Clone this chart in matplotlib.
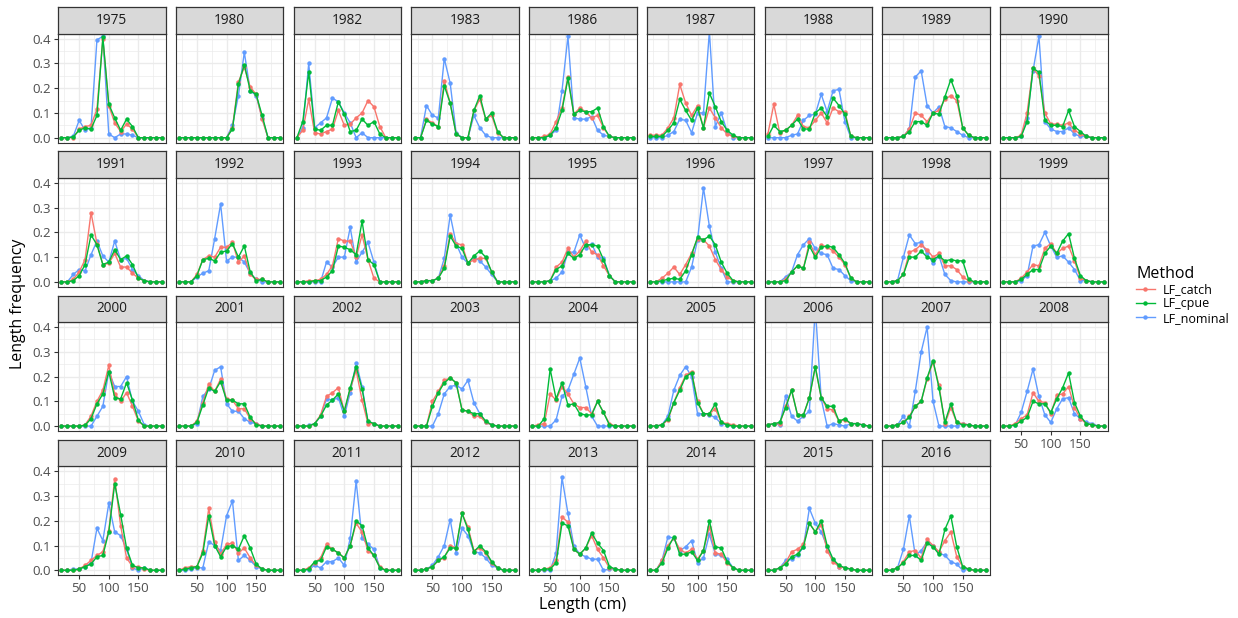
import matplotlib
matplotlib.use("Agg")
import matplotlib.pyplot as plt
from matplotlib.ticker import MultipleLocator

plt.rcParams["font.family"] = ["Open Sans", "DejaVu Sans"]

# =========================
# DATA
# =========================
YEARS = [1975, 1980, 1982, 1983, 1986, 1987, 1988, 1989, 1990,
         1991, 1992, 1993, 1994, 1995, 1996, 1997, 1998, 1999,
         2000, 2001, 2002, 2003, 2004, 2005, 2006, 2007, 2008,
         2009, 2010, 2011, 2012, 2013, 2014, 2015, 2016]

LENGTHS = [20, 30, 40, 50, 60, 70, 80, 90, 100, 110, 120, 130, 140, 150, 160, 170, 180, 190]

METHODS = ["LF_catch", "LF_cpue", "LF_nominal"]

# one row per year, one value per length class
LF_CATCH = [
    [0, 0, 0, 0.035, 0.045, 0.05, 0.115, 0.40, 0.13, 0.06, 0.025, 0.055, 0.035, 0, 0, 0, 0, 0],
    [0, 0, 0, 0, 0, 0, 0, 0, 0, 0.04, 0.225, 0.285, 0.205, 0.175, 0.075, 0, 0, 0],
    [0, 0.03, 0.155, 0.02, 0.015, 0.025, 0.035, 0.11, 0.05, 0.055, 0.08, 0.1, 0.15, 0.125, 0.045, 0, 0, 0],
    [0, 0, 0.075, 0.06, 0.045, 0.23, 0.14, 0.015, 0, 0, 0.11, 0.155, 0.075, 0.09, 0.02, 0, 0, 0],
    [0, 0, 0.005, 0.015, 0.065, 0.12, 0.245, 0.095, 0.12, 0.105, 0.08, 0.09, 0.04, 0.005, 0, 0, 0, 0],
    [0.01, 0.01, 0.01, 0.04, 0.08, 0.215, 0.14, 0.09, 0.13, 0.04, 0.12, 0.08, 0.04, 0.015, 0.005, 0, 0, 0],
    [0.015, 0.135, 0.02, 0.03, 0.05, 0.09, 0.045, 0.04, 0.07, 0.1, 0.06, 0.12, 0.105, 0.105, 0.005, 0, 0, 0],
    [0, 0, 0, 0.005, 0.035, 0.1, 0.09, 0.065, 0.1, 0.11, 0.155, 0.17, 0.15, 0.04, 0.01, 0, 0, 0],
    [0, 0, 0, 0.01, 0.1, 0.28, 0.25, 0.1, 0.055, 0.055, 0.05, 0.06, 0.03, 0.015, 0.005, 0, 0, 0],
    [0, 0, 0.01, 0.04, 0.09, 0.28, 0.155, 0.07, 0.075, 0.115, 0.06, 0.06, 0.035, 0.015, 0.005, 0, 0, 0],
    [0, 0, 0, 0.03, 0.09, 0.105, 0.1, 0.14, 0.14, 0.16, 0.08, 0.105, 0.03, 0.01, 0.01, 0, 0, 0],
    [0, 0, 0.005, 0.005, 0.01, 0.03, 0.065, 0.175, 0.165, 0.165, 0.1, 0.19, 0.09, 0.015, 0, 0, 0, 0],
    [0, 0, 0.005, 0.005, 0.015, 0.065, 0.195, 0.155, 0.15, 0.075, 0.09, 0.095, 0.095, 0.04, 0, 0, 0, 0],
    [0, 0, 0, 0.005, 0.06, 0.08, 0.135, 0.1, 0.125, 0.165, 0.12, 0.11, 0.065, 0.025, 0, 0, 0, 0],
    [0, 0, 0.015, 0.035, 0.06, 0.03, 0.07, 0.115, 0.175, 0.17, 0.145, 0.09, 0.05, 0.02, 0.005, 0, 0, 0],
    [0, 0, 0, 0.01, 0.04, 0.065, 0.055, 0.16, 0.11, 0.15, 0.14, 0.125, 0.1, 0.07, 0.015, 0, 0, 0],
    [0, 0, 0.005, 0.03, 0.12, 0.13, 0.15, 0.13, 0.1, 0.115, 0.065, 0.065, 0.05, 0.02, 0.005, 0, 0, 0],
    [0, 0, 0, 0.015, 0.04, 0.07, 0.065, 0.135, 0.155, 0.115, 0.135, 0.145, 0.085, 0.015, 0.005, 0, 0, 0],
    [0, 0, 0, 0, 0.005, 0.04, 0.1, 0.145, 0.245, 0.13, 0.1, 0.135, 0.08, 0.02, 0, 0, 0, 0],
    [0, 0, 0, 0.02, 0.095, 0.17, 0.14, 0.19, 0.11, 0.105, 0.07, 0.07, 0.03, 0.01, 0, 0, 0, 0],
    [0, 0, 0, 0.01, 0.045, 0.12, 0.135, 0.155, 0.06, 0.15, 0.225, 0.105, 0.01, 0.01, 0, 0, 0, 0],
    [0, 0, 0, 0.1, 0.14, 0.185, 0.195, 0.175, 0.065, 0.06, 0.04, 0.04, 0.015, 0.005, 0, 0, 0, 0],
    [0, 0.005, 0.01, 0.13, 0.105, 0.16, 0.13, 0.09, 0.075, 0.075, 0.05, 0.1, 0.055, 0.01, 0, 0, 0, 0],
    [0, 0, 0.005, 0.025, 0.095, 0.155, 0.205, 0.22, 0.1, 0.05, 0.05, 0.07, 0.015, 0.01, 0.005, 0, 0, 0],
    [0.005, 0.01, 0.01, 0.08, 0.145, 0.045, 0.045, 0.115, 0.24, 0.115, 0.07, 0.065, 0.02, 0.025, 0.01, 0.01, 0.005, 0],
    [0, 0, 0.005, 0.015, 0.04, 0.08, 0.1, 0.19, 0.26, 0.165, 0.01, 0.075, 0.015, 0.01, 0.005, 0, 0, 0],
    [0, 0, 0.01, 0.03, 0.045, 0.135, 0.1, 0.095, 0.05, 0.125, 0.13, 0.16, 0.075, 0.03, 0.01, 0.005, 0, 0],
    [0, 0, 0, 0.005, 0.02, 0.04, 0.06, 0.075, 0.16, 0.37, 0.18, 0.05, 0.015, 0.015, 0.005, 0, 0, 0],
    [0, 0.01, 0.015, 0.015, 0.08, 0.25, 0.115, 0.065, 0.105, 0.11, 0.07, 0.09, 0.05, 0.02, 0.005, 0, 0, 0],
    [0, 0, 0.01, 0.03, 0.05, 0.105, 0.085, 0.07, 0.05, 0.1, 0.19, 0.155, 0.08, 0.06, 0.015, 0, 0, 0],
    [0, 0, 0.005, 0.015, 0.04, 0.05, 0.1, 0.09, 0.23, 0.175, 0.08, 0.09, 0.07, 0.03, 0.01, 0, 0, 0],
    [0, 0, 0.005, 0.01, 0.04, 0.215, 0.195, 0.085, 0.065, 0.09, 0.14, 0.085, 0.05, 0.01, 0.005, 0, 0, 0],
    [0, 0, 0.04, 0.1, 0.13, 0.085, 0.07, 0.085, 0.045, 0.08, 0.175, 0.07, 0.065, 0.03, 0.01, 0, 0, 0],
    [0, 0, 0.01, 0.03, 0.075, 0.085, 0.105, 0.19, 0.155, 0.185, 0.08, 0.035, 0.015, 0.01, 0.005, 0, 0, 0],
    [0, 0, 0.01, 0.035, 0.075, 0.08, 0.05, 0.125, 0.1, 0.075, 0.12, 0.155, 0.055, 0.015, 0.005, 0, 0, 0],
]

LF_CPUE = [
    [0, 0, 0.003, 0.03, 0.04, 0.035, 0.09, 0.405, 0.135, 0.08, 0.03, 0.075, 0.045, 0, 0, 0, 0, 0],
    [0, 0, 0, 0, 0, 0, 0, 0, 0, 0.035, 0.215, 0.295, 0.19, 0.175, 0.09, 0, 0, 0],
    [0, 0.065, 0.265, 0.035, 0.03, 0.05, 0.05, 0.145, 0.095, 0.025, 0.03, 0.075, 0.05, 0.065, 0.015, 0, 0, 0],
    [0, 0, 0.07, 0.055, 0.045, 0.21, 0.14, 0.015, 0, 0, 0.11, 0.17, 0.075, 0.1, 0.025, 0, 0, 0],
    [0, 0, 0, 0.01, 0.04, 0.11, 0.24, 0.095, 0.11, 0.105, 0.105, 0.12, 0.045, 0.005, 0, 0, 0, 0],
    [0.005, 0.005, 0.005, 0.03, 0.06, 0.155, 0.11, 0.07, 0.12, 0.04, 0.18, 0.125, 0.065, 0.03, 0.01, 0, 0, 0],
    [0.005, 0.05, 0.025, 0.03, 0.05, 0.075, 0.035, 0.035, 0.1, 0.12, 0.085, 0.16, 0.13, 0.095, 0.005, 0, 0, 0],
    [0, 0, 0, 0.005, 0.025, 0.065, 0.065, 0.05, 0.1, 0.095, 0.165, 0.235, 0.17, 0.04, 0.01, 0, 0, 0],
    [0, 0, 0, 0.005, 0.065, 0.28, 0.265, 0.07, 0.05, 0.05, 0.045, 0.11, 0.045, 0.025, 0.005, 0, 0, 0],
    [0, 0, 0.005, 0.025, 0.07, 0.19, 0.15, 0.07, 0.08, 0.13, 0.09, 0.105, 0.07, 0.015, 0.005, 0, 0, 0],
    [0, 0, 0, 0.025, 0.09, 0.095, 0.085, 0.12, 0.125, 0.155, 0.1, 0.145, 0.04, 0.005, 0.01, 0, 0, 0],
    [0, 0, 0, 0.005, 0.005, 0.02, 0.045, 0.145, 0.14, 0.13, 0.11, 0.245, 0.09, 0.07, 0, 0, 0, 0],
    [0, 0, 0.005, 0.005, 0.015, 0.055, 0.185, 0.145, 0.135, 0.075, 0.105, 0.125, 0.1, 0.04, 0, 0, 0, 0],
    [0, 0, 0, 0.005, 0.05, 0.065, 0.115, 0.095, 0.11, 0.15, 0.15, 0.145, 0.09, 0.025, 0, 0, 0, 0],
    [0, 0, 0.005, 0.01, 0.015, 0.01, 0.045, 0.11, 0.18, 0.17, 0.185, 0.15, 0.08, 0.035, 0.005, 0, 0, 0],
    [0, 0, 0, 0.005, 0.04, 0.065, 0.055, 0.145, 0.1, 0.14, 0.145, 0.14, 0.11, 0.075, 0.015, 0, 0, 0],
    [0, 0, 0.005, 0.03, 0.1, 0.1, 0.125, 0.1, 0.09, 0.105, 0.085, 0.09, 0.085, 0.085, 0.01, 0, 0, 0],
    [0, 0, 0, 0.01, 0.03, 0.05, 0.05, 0.115, 0.145, 0.115, 0.165, 0.195, 0.095, 0.025, 0.005, 0, 0, 0],
    [0, 0, 0, 0, 0.003, 0.03, 0.09, 0.13, 0.22, 0.115, 0.11, 0.175, 0.105, 0.023, 0, 0, 0, 0],
    [0, 0, 0, 0.015, 0.085, 0.155, 0.14, 0.18, 0.105, 0.105, 0.09, 0.09, 0.035, 0.005, 0, 0, 0, 0],
    [0, 0, 0, 0.01, 0.04, 0.085, 0.105, 0.13, 0.06, 0.155, 0.24, 0.15, 0.02, 0.01, 0, 0, 0, 0],
    [0, 0, 0, 0.08, 0.135, 0.175, 0.195, 0.175, 0.065, 0.06, 0.05, 0.05, 0.02, 0.005, 0, 0, 0, 0],
    [0, 0, 0.03, 0.23, 0.11, 0.175, 0.085, 0.09, 0.05, 0.045, 0.045, 0.1, 0.055, 0.005, 0, 0, 0, 0],
    [0, 0, 0.005, 0.03, 0.095, 0.145, 0.2, 0.215, 0.095, 0.05, 0.05, 0.09, 0.015, 0.005, 0, 0, 0, 0],
    [0.005, 0.01, 0.015, 0.075, 0.145, 0.045, 0.045, 0.115, 0.24, 0.115, 0.08, 0.08, 0.02, 0.03, 0.01, 0.01, 0.005, 0],
    [0, 0, 0.005, 0.015, 0.035, 0.08, 0.1, 0.195, 0.265, 0.155, 0.015, 0.09, 0.015, 0.005, 0.005, 0, 0, 0],
    [0, 0, 0.005, 0.02, 0.035, 0.1, 0.09, 0.09, 0.055, 0.11, 0.155, 0.215, 0.095, 0.04, 0.01, 0.005, 0, 0],
    [0, 0, 0, 0.005, 0.015, 0.025, 0.055, 0.06, 0.155, 0.35, 0.225, 0.09, 0.02, 0.01, 0.01, 0, 0, 0],
    [0, 0.005, 0.01, 0.015, 0.07, 0.22, 0.1, 0.055, 0.095, 0.1, 0.085, 0.14, 0.09, 0.025, 0.005, 0, 0, 0],
    [0, 0, 0.005, 0.035, 0.04, 0.095, 0.085, 0.07, 0.05, 0.1, 0.2, 0.18, 0.09, 0.06, 0.01, 0, 0, 0],
    [0, 0, 0.005, 0.015, 0.04, 0.055, 0.09, 0.09, 0.23, 0.165, 0.075, 0.1, 0.075, 0.035, 0.01, 0, 0, 0],
    [0, 0, 0.005, 0.005, 0.03, 0.19, 0.18, 0.085, 0.065, 0.09, 0.15, 0.11, 0.08, 0.015, 0.005, 0, 0, 0],
    [0, 0, 0.03, 0.09, 0.135, 0.065, 0.065, 0.075, 0.04, 0.08, 0.2, 0.095, 0.09, 0.035, 0.01, 0, 0, 0],
    [0, 0, 0.01, 0.025, 0.055, 0.065, 0.095, 0.19, 0.155, 0.2, 0.1, 0.045, 0.02, 0.01, 0.005, 0, 0, 0],
    [0, 0, 0.01, 0.03, 0.06, 0.06, 0.04, 0.11, 0.095, 0.065, 0.165, 0.22, 0.095, 0.015, 0.005, 0, 0, 0],
]

LF_NOMINAL = [
    [0, 0, 0.005, 0.07, 0.03, 0.04, 0.395, 0.41, 0.015, 0, 0.015, 0.015, 0.01, 0, 0, 0, 0, 0],
    [0, 0, 0, 0, 0, 0, 0, 0, 0, 0.05, 0.17, 0.345, 0.19, 0.17, 0.08, 0, 0, 0],
    [0, 0.04, 0.3, 0.04, 0.06, 0.08, 0.16, 0.145, 0.1, 0.06, 0, 0.02, 0, 0, 0, 0, 0, 0],
    [0, 0, 0.13, 0.09, 0.08, 0.32, 0.22, 0.02, 0, 0, 0.09, 0.04, 0.01, 0, 0, 0, 0, 0],
    [0, 0, 0, 0.01, 0.03, 0.19, 0.41, 0.08, 0.075, 0.075, 0.085, 0.03, 0.01, 0.005, 0, 0, 0, 0],
    [0, 0, 0, 0.01, 0.025, 0.075, 0.07, 0.02, 0.1, 0.1, 0.43, 0.045, 0.1, 0.025, 0, 0, 0, 0],
    [0, 0, 0, 0, 0.01, 0.015, 0.07, 0.09, 0.095, 0.175, 0.105, 0.19, 0.195, 0.065, 0, 0, 0, 0],
    [0, 0, 0, 0.005, 0.035, 0.245, 0.27, 0.13, 0.1, 0.125, 0.045, 0.04, 0.025, 0.01, 0, 0, 0, 0],
    [0, 0, 0, 0.005, 0.08, 0.27, 0.41, 0.065, 0.035, 0.025, 0.025, 0.04, 0.015, 0.005, 0.005, 0, 0, 0],
    [0, 0, 0.03, 0.05, 0.045, 0.11, 0.165, 0.105, 0.08, 0.165, 0.09, 0.095, 0.05, 0.025, 0.005, 0, 0, 0],
    [0, 0, 0, 0.02, 0.035, 0.045, 0.175, 0.315, 0.085, 0.1, 0.1, 0.08, 0.035, 0.01, 0, 0, 0, 0],
    [0, 0, 0, 0, 0, 0.08, 0.06, 0.1, 0.1, 0.22, 0.08, 0.12, 0.16, 0.08, 0, 0, 0, 0],
    [0, 0, 0.005, 0.005, 0.015, 0.095, 0.27, 0.155, 0.1, 0.075, 0.1, 0.085, 0.06, 0.03, 0, 0, 0, 0],
    [0, 0, 0, 0.005, 0.015, 0.04, 0.12, 0.12, 0.19, 0.135, 0.155, 0.1, 0.095, 0.025, 0, 0, 0, 0],
    [0, 0, 0, 0, 0, 0, 0, 0.06, 0.17, 0.38, 0.225, 0.12, 0.055, 0, 0, 0, 0, 0],
    [0, 0, 0, 0.02, 0.04, 0.11, 0.15, 0.175, 0.135, 0.115, 0.11, 0.055, 0.05, 0.025, 0.005, 0, 0, 0],
    [0, 0, 0.005, 0.1, 0.19, 0.155, 0.16, 0.115, 0.075, 0.105, 0.03, 0.005, 0, 0, 0, 0, 0, 0],
    [0, 0, 0, 0.005, 0.025, 0.145, 0.15, 0.2, 0.145, 0.1, 0.105, 0.08, 0.05, 0.005, 0.005, 0, 0, 0],
    [0, 0, 0, 0, 0, 0, 0.04, 0.08, 0.22, 0.16, 0.16, 0.2, 0.1, 0.06, 0.005, 0, 0, 0],
    [0, 0, 0, 0.01, 0.12, 0.15, 0.225, 0.24, 0.09, 0.06, 0.06, 0.03, 0.015, 0.01, 0, 0, 0, 0],
    [0, 0, 0.003, 0.01, 0.04, 0.11, 0.105, 0.115, 0.04, 0.135, 0.255, 0.16, 0.015, 0.01, 0, 0, 0, 0],
    [0, 0, 0, 0, 0.05, 0.13, 0.16, 0.165, 0.15, 0.185, 0.095, 0.05, 0.015, 0.005, 0, 0, 0, 0],
    [0, 0, 0, 0, 0.025, 0.12, 0.145, 0.21, 0.275, 0.16, 0.04, 0, 0, 0, 0, 0, 0, 0],
    [0, 0, 0.005, 0.04, 0.145, 0.205, 0.24, 0.2, 0.05, 0.05, 0.045, 0.035, 0.01, 0.005, 0, 0, 0, 0],
    [0.005, 0.01, 0.005, 0.12, 0.04, 0.02, 0.04, 0.06, 0.48, 0.11, 0, 0.01, 0.005, 0, 0.01, 0.01, 0.005, 0],
    [0, 0, 0.005, 0.04, 0, 0.14, 0.3, 0.4, 0.1, 0, 0, 0, 0, 0.01, 0.005, 0, 0, 0],
    [0, 0, 0.005, 0.055, 0.14, 0.23, 0.12, 0.045, 0.015, 0.07, 0.11, 0.115, 0.05, 0.03, 0.015, 0.01, 0, 0],
    [0, 0, 0.005, 0.005, 0.015, 0.03, 0.17, 0.12, 0.27, 0.155, 0.14, 0.085, 0.01, 0, 0.01, 0, 0, 0],
    [0, 0, 0.005, 0.01, 0.01, 0.115, 0.1, 0.08, 0.22, 0.28, 0.04, 0.06, 0.04, 0.015, 0.005, 0, 0, 0],
    [0, 0, 0.003, 0.02, 0.01, 0.035, 0.035, 0.05, 0.02, 0.13, 0.36, 0.13, 0.105, 0.085, 0.01, 0, 0, 0],
    [0, 0, 0.005, 0.02, 0.055, 0.1, 0.205, 0.07, 0.17, 0.14, 0.075, 0.07, 0.05, 0.02, 0.01, 0, 0, 0],
    [0, 0, 0, 0, 0.07, 0.375, 0.23, 0.1, 0.065, 0.055, 0.045, 0.045, 0, 0.005, 0.005, 0, 0, 0],
    [0, 0, 0.04, 0.135, 0.13, 0.08, 0.095, 0.12, 0.03, 0.05, 0.145, 0.065, 0.06, 0.045, 0.01, 0, 0, 0],
    [0, 0, 0.01, 0.04, 0.045, 0.06, 0.095, 0.25, 0.19, 0.155, 0.095, 0.04, 0.015, 0.01, 0.005, 0, 0, 0],
    [0, 0, 0.01, 0.085, 0.22, 0.06, 0.08, 0.115, 0.1, 0.07, 0.06, 0.035, 0.025, 0, 0.005, 0, 0, 0],
]

# =========================
# STYLE / LAYOUT
# =========================
COLORS = {"LF_catch": "#F8766D", "LF_cpue": "#00BA38", "LF_nominal": "#619CFF"}
SERIES = {"LF_catch": LF_CATCH, "LF_cpue": LF_CPUE, "LF_nominal": LF_NOMINAL}
DRAW_ORDER = ["LF_nominal", "LF_catch", "LF_cpue"]

W, H = 1238, 618
NCOL = 9
PANEL_LEFT, PANEL_TOP = 58.0, 33.75
PANEL_W, PANEL_H = 107.5, 108.9
COL_STEP, ROW_STEP = 117.75, 144.2
STRIP_H = 26.5

fig = plt.figure(figsize=(W / 100, H / 100), dpi=100)
fig.patch.set_facecolor("white")


def px_axes(left, top, width, height):
    return fig.add_axes([left / W, 1 - (top + height) / H, width / W, height / H])


n = len(YEARS)
legend_handles = {}

for k, year in enumerate(YEARS):
    r, c = divmod(k, NCOL)
    left = PANEL_LEFT + c * COL_STEP
    top = PANEL_TOP + r * ROW_STEP

    ax = px_axes(left, top, PANEL_W, PANEL_H)
    ax.set_xlim(14.3, 195.7)
    ax.set_ylim(-0.02, 0.42)
    ax.xaxis.set_major_locator(MultipleLocator(50))
    ax.xaxis.set_minor_locator(MultipleLocator(25))
    ax.yaxis.set_major_locator(MultipleLocator(0.1))
    ax.yaxis.set_minor_locator(MultipleLocator(0.05))
    ax.grid(which="major", color="#EBEBEB", linewidth=1.0)
    ax.grid(which="minor", color="#EBEBEB", linewidth=0.5)
    ax.set_axisbelow(True)
    for sp in ax.spines.values():
        sp.set_color("#333333")
        sp.set_linewidth(0.8)

    for m in DRAW_ORDER:
        ln, = ax.plot(LENGTHS, SERIES[m][k], color=COLORS[m], linewidth=1.0,
                      marker="o", markersize=3.2, markeredgewidth=0, zorder=3)
        legend_handles[m] = ln

    # tick labels on the outer panels only
    show_x = k + NCOL >= n
    show_y = c == 0
    ax.tick_params(axis="both", which="minor", length=0)
    ax.tick_params(axis="x", which="major", length=3 if show_x else 0,
                   color="#333333", width=0.8, labelsize=9.5, labelcolor="#4D4D4D",
                   labelbottom=show_x, pad=2)
    ax.tick_params(axis="y", which="major", length=3 if show_y else 0,
                   color="#333333", width=0.8, labelsize=9.5, labelcolor="#4D4D4D",
                   labelleft=show_y, pad=2)
    if show_y:
        ax.set_yticks([0, 0.1, 0.2, 0.3, 0.4])
        ax.set_yticklabels(["0.0", "0.1", "0.2", "0.3", "0.4"])

    # facet strip
    sax = px_axes(left, top - STRIP_H, PANEL_W, STRIP_H)
    sax.set_facecolor("#D9D9D9")
    sax.set_xticks([])
    sax.set_yticks([])
    for sp in sax.spines.values():
        sp.set_color("#333333")
        sp.set_linewidth(0.9)
    sax.text(0.5, 0.5, str(year), ha="center", va="center",
             fontsize=9.8, color="#1A1A1A", transform=sax.transAxes)

# axis titles
fig.text(583 / W, 1 - 605 / H, "Length (cm)", ha="center", va="center", fontsize=11.5)
fig.text(18 / W, 1 - 304 / H, "Length frequency", ha="center", va="center",
         rotation=90, fontsize=11.5)

leg = fig.legend([legend_handles[m] for m in METHODS], METHODS,
                 loc="upper left", bbox_to_anchor=(1136 / W, 1 - 266 / H),
                 frameon=False, title="Method", title_fontsize=11.5, fontsize=9,
                 handlelength=1.5, handletextpad=0.6, labelspacing=0.1,
                 borderpad=0, borderaxespad=0, alignment="left")

fig.savefig("out.png", dpi=100)
